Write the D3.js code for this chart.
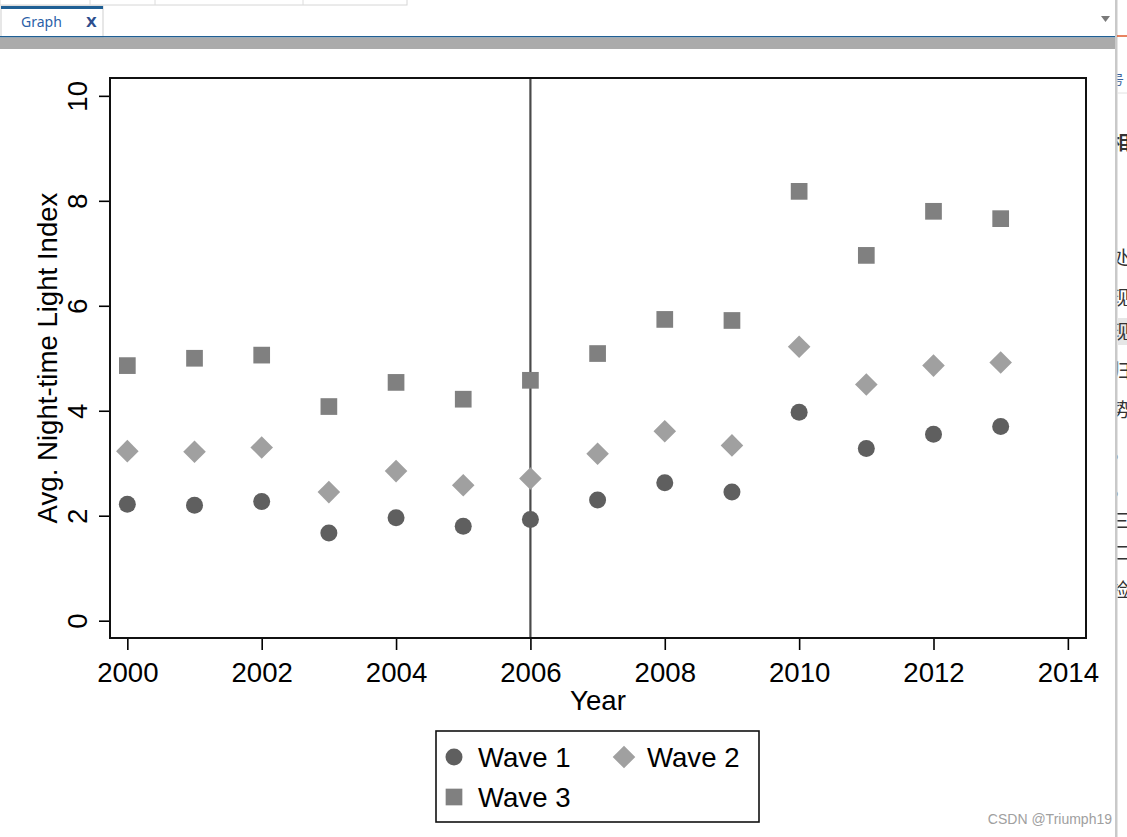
<!DOCTYPE html>
<html>
<head>
<meta charset="utf-8">
<script src="https://cdn.jsdelivr.net/npm/d3@7"></script>
<style>
  html, body { margin: 0; padding: 0; background: #ffffff; }
  svg { display: block; }
</style>
</head>
<body>
<svg id="chart" width="1127" height="837"></svg>
<script>
// ---------------- data ----------------
const years = [2000, 2001, 2002, 2003, 2004, 2005, 2006, 2007, 2008, 2009, 2010, 2011, 2012, 2013];
const wave1 = [2.22, 2.20, 2.27, 1.67, 1.96, 1.80, 1.93, 2.30, 2.63, 2.45, 3.97, 3.28, 3.55, 3.70];
const wave2 = [3.23, 3.22, 3.30, 2.45, 2.85, 2.58, 2.71, 3.18, 3.61, 3.34, 5.22, 4.50, 4.86, 4.92];
const wave3 = [4.86, 5.00, 5.06, 4.08, 4.54, 4.22, 4.58, 5.09, 5.74, 5.72, 8.18, 6.96, 7.80, 7.66];
const seriesNames = ["Wave 1", "Wave 2", "Wave 3"];
const xTicks = [2000, 2002, 2004, 2006, 2008, 2010, 2012, 2014];
const yTicks = [0, 2, 4, 6, 8, 10];
const cutoffYear = 2006;
const xTitle = "Year";
const yTitle = "Avg. Night-time Light Index";
const sideChars = ["号", "相", "处", "现", "现", "归", "势", "。", "。", "三", "二", "检"];

// ---------------- setup ----------------
const svg = d3.select("#chart");
const FONT = "'Liberation Sans', Arial, Helvetica, sans-serif";
const FS = 27.6;
const plot = { left: 110, right: 1086, top: 78, bottom: 638 };

const x = d3.scaleLinear().domain([1999.742, 2014.27]).range([plot.left, plot.right]);
const y = d3.scaleLinear().domain([-0.33, 10.34]).range([plot.bottom, plot.top]);

// ---------------- window chrome ----------------
const chrome = svg.append("g");
chrome.append("rect").attr("x", 0).attr("y", -1).attr("width", 407).attr("height", 6)
  .attr("fill", "#ffffff").attr("stroke", "#d6d6d6");
[90, 155, 303].forEach(v => chrome.append("line").attr("x1", v).attr("x2", v).attr("y1", 0).attr("y2", 5).attr("stroke", "#dcdcdc"));
chrome.append("rect").attr("x", 1).attr("y", 6).attr("width", 102).attr("height", 31)
  .attr("fill", "#ffffff").attr("stroke", "#cfcfcf");
chrome.append("rect").attr("x", 1).attr("y", 6).attr("width", 102).attr("height", 3).attr("fill", "#1f5f94");
chrome.append("text").attr("x", 21).attr("y", 27).attr("font-family", "'Noto Sans', 'DejaVu Sans', sans-serif")
  .attr("font-size", 14).attr("fill", "#2b5fa8").text("Graph");
chrome.append("text").attr("x", 86).attr("y", 27).attr("font-family", "'DejaVu Sans', sans-serif")
  .attr("font-size", 14).attr("font-weight", "bold").attr("fill", "#2d4e8e").text("X");
chrome.append("path").attr("d", "M1101,16 L1110,16 L1105.5,22 Z").attr("fill", "#7a7a7a");
chrome.append("rect").attr("x", 0).attr("y", 36).attr("width", 1115).attr("height", 1.5).attr("fill", "#1f5f94");
chrome.append("rect").attr("x", 0).attr("y", 37.5).attr("width", 1115).attr("height", 11.5).attr("fill", "#ababab");
chrome.append("rect").attr("x", 1115).attr("y", 0).attr("width", 12).attr("height", 837).attr("fill", "#ffffff");
chrome.append("rect").attr("x", 1115).attr("y", 0).attr("width", 2.5).attr("height", 837).attr("fill", "#c9c9c9");
chrome.append("line").attr("x1", 1117).attr("x2", 1127).attr("y1", 36).attr("y2", 36).attr("stroke", "#e05a2b").attr("stroke-width", 1.5);
chrome.append("rect").attr("x", 1117).attr("y", 318).attr("width", 10).attr("height", 27).attr("fill", "#e6e6e6");
chrome.append("line").attr("x1", 1117).attr("x2", 1127).attr("y1", 93).attr("y2", 93).attr("stroke", "#e2e2e2");
svg.append("clipPath").attr("id", "sideclip").append("rect")
  .attr("x", 1117.5).attr("y", 0).attr("width", 10).attr("height", 837);
const sideY = [84, 150, 265, 305, 339, 378, 417, 459, 496, 528, 560, 597];
const side = chrome.append("g").attr("clip-path", "url(#sideclip)");
sideChars.forEach((c, i) => {
  side.append("text").attr("x", 1111).attr("y", sideY[i])
    .attr("font-family", "'Noto Sans CJK SC', sans-serif")
    .attr("font-size", i === 0 ? 13 : 19)
    .attr("font-weight", i === 1 ? "bold" : "normal")
    .attr("fill", i === 0 ? "#3a5f9a" : "#333333")
    .text(c);
});

// ---------------- axes ----------------
const xAxis = svg.append("g").attr("transform", `translate(0,${plot.bottom})`)
  .call(d3.axisBottom(x).tickValues(xTicks).tickFormat(d3.format("d")).tickSize(12).tickSizeOuter(0));
xAxis.select(".domain").remove();
xAxis.selectAll(".tick line").attr("stroke", "#000").attr("stroke-width", 1.6);
xAxis.selectAll(".tick text").attr("y", 44).attr("dy", null)
  .attr("font-family", FONT).attr("font-size", FS).attr("fill", "#000");

const yAxis = svg.append("g").attr("transform", `translate(${plot.left},0)`)
  .call(d3.axisLeft(y).tickValues(yTicks).tickSize(11).tickSizeOuter(0));
yAxis.select(".domain").remove();
yAxis.selectAll(".tick line").attr("stroke", "#000").attr("stroke-width", 1.6);
yAxis.selectAll(".tick text").attr("x", null).attr("dy", null)
  .attr("transform", "translate(-23,0) rotate(-90)")
  .attr("text-anchor", "middle")
  .attr("font-family", FONT).attr("font-size", FS).attr("fill", "#000");

svg.append("text").attr("x", (plot.left + plot.right) / 2).attr("y", 710)
  .attr("text-anchor", "middle").attr("font-family", FONT).attr("font-size", FS).attr("fill", "#000")
  .text(xTitle);
svg.append("text").attr("transform", `translate(57,${(plot.top + plot.bottom) / 2}) rotate(-90)`)
  .attr("text-anchor", "middle").attr("font-family", FONT).attr("font-size", FS).attr("fill", "#000")
  .text(yTitle);

// ---------------- reference line ----------------
svg.append("line")
  .attr("x1", x(cutoffYear)).attr("x2", x(cutoffYear))
  .attr("y1", plot.top).attr("y2", plot.bottom)
  .attr("stroke", "#4a4a4a").attr("stroke-width", 2.2);

// ---------------- markers ----------------
const diamondType = {
  draw(ctx, size) {
    const r = Math.sqrt(size / 2);
    ctx.moveTo(0, -r); ctx.lineTo(r, 0); ctx.lineTo(0, r); ctx.lineTo(-r, 0); ctx.closePath();
  }
};
const styles = [
  { type: d3.symbolCircle, size: 227, color: "#5f5f5f" },
  { type: diamondType, size: 255, color: "#a0a0a0" },
  { type: d3.symbolSquare, size: 279, color: "#808080" }
];
const allSeries = [wave1, wave2, wave3];

allSeries.forEach((vals, si) => {
  const st = styles[si];
  svg.append("g").selectAll("path").data(years.map((yr, i) => ({ yr, v: vals[i] })))
    .join("path")
    .attr("transform", d => `translate(${x(d.yr)},${y(d.v)})`)
    .attr("d", d3.symbol().type(st.type).size(st.size))
    .attr("fill", st.color);
});

svg.append("rect").attr("x", plot.left).attr("y", plot.top)
  .attr("width", plot.right - plot.left).attr("height", plot.bottom - plot.top)
  .attr("fill", "none").attr("stroke", "#111").attr("stroke-width", 2);

// ---------------- legend ----------------
const lg = svg.append("g");
lg.append("rect").attr("x", 436).attr("y", 731).attr("width", 323).attr("height", 91)
  .attr("fill", "#fff").attr("stroke", "#111").attr("stroke-width", 1.6);
const legendPos = [
  { mx: 454, my: 757, tx: 478, ty: 767 },
  { mx: 624, my: 757, tx: 647, ty: 767 },
  { mx: 454, my: 797, tx: 478, ty: 807 }
];
seriesNames.forEach((name, i) => {
  const p = legendPos[i], st = styles[i];
  lg.append("path").attr("transform", `translate(${p.mx},${p.my})`)
    .attr("d", d3.symbol().type(st.type).size(st.size)).attr("fill", st.color);
  lg.append("text").attr("x", p.tx).attr("y", p.ty)
    .attr("font-family", FONT).attr("font-size", FS).attr("fill", "#000").text(name);
});

svg.append("text").attr("x", 1112).attr("y", 824).attr("text-anchor", "end")
  .attr("font-family", "'Liberation Sans', Arial, sans-serif").attr("font-size", 14)
  .attr("fill", "#a0a0a0").text("CSDN @Triumph19");
</script>
</body>
</html>
